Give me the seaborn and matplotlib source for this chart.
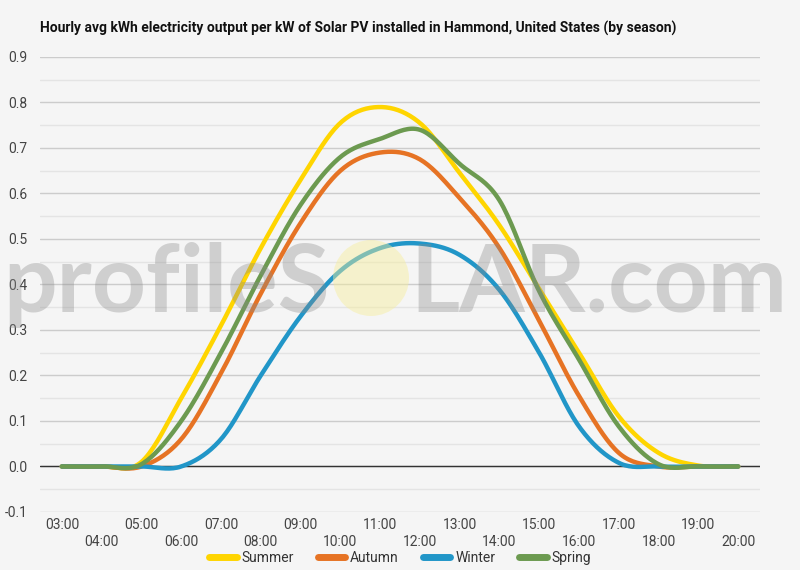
import numpy as np
import pandas as pd
import seaborn as sns
import matplotlib
matplotlib.use('Agg')
import matplotlib.pyplot as plt
from matplotlib.patches import Ellipse

# hourly values (kWh per kW installed)
hours = list(range(3, 21))
hour_labels = [f'{h:02d}:00' for h in hours]
summer = [0, 0, 0.01, 0.15, 0.31, 0.48, 0.63, 0.755, 0.79, 0.755, 0.645, 0.53, 0.39, 0.25, 0.11, 0.03, 0.002, 0]
autumn = [0, 0, 0, 0.06, 0.205, 0.38, 0.535, 0.65, 0.69, 0.675, 0.59, 0.48, 0.32, 0.155, 0.03, 0, 0, 0]
winter = [0, 0, 0, 0, 0.06, 0.20, 0.33, 0.43, 0.48, 0.49, 0.465, 0.388, 0.25, 0.088, 0.008, 0, 0, 0]
spring = [0, 0, 0.005, 0.10, 0.25, 0.42, 0.575, 0.68, 0.72, 0.74, 0.665, 0.585, 0.385, 0.235, 0.088, 0.005, 0, 0]

seasons = ['Summer', 'Autumn', 'Winter', 'Spring']
colors = ['#FFD500', '#E67324', '#2196C8', '#6C9A50']
series = dict(zip(seasons, [summer, autumn, winter, spring]))


def smooth(x, y, n=20):
    # catmull-rom style curve through the hourly points (like curveType 'function')
    x = np.asarray(x, float)
    y = np.asarray(y, float)
    m = np.gradient(y, x)
    xs, ys = [], []
    for i in range(len(x) - 1):
        t = np.linspace(0, 1, n, endpoint=False)
        h = x[i + 1] - x[i]
        h00 = 2 * t**3 - 3 * t**2 + 1
        h10 = t**3 - 2 * t**2 + t
        h01 = -2 * t**3 + 3 * t**2
        h11 = t**3 - t**2
        xs.append(x[i] + t * h)
        ys.append(h00 * y[i] + h10 * h * m[i] + h01 * y[i + 1] + h11 * h * m[i + 1])
    xs.append([x[-1]])
    ys.append([y[-1]])
    return np.concatenate(xs), np.concatenate(ys)


rows = []
for s in seasons:
    xs, ys = smooth(hours, series[s])
    rows.append(pd.DataFrame({'hour': xs, 'kwh': ys, 'season': s}))
df = pd.concat(rows, ignore_index=True)

sns.set_style('white')
plt.rcParams['font.family'] = ['Roboto', 'DejaVu Sans']

bg = '#F5F5F5'
fig = plt.figure(figsize=(8, 5.7), dpi=100, facecolor=bg)
ax = fig.add_axes([0.05, 0.1018, 0.9, 0.7982])
ax.set_facecolor(bg)

# grid
for v in np.arange(-0.1, 0.91, 0.1):
    ax.axhline(v, color='#CCCCCC', lw=1, zorder=0)
for v in np.arange(-0.05, 0.9, 0.1):
    ax.axhline(v, color='#E4E4E4', lw=1, zorder=0)
ax.axhline(0, color='#333333', lw=1, zorder=1)

sns.lineplot(data=df, x='hour', y='kwh', hue='season', palette=colors,
             hue_order=seasons, lw=3.2, ax=ax, sort=False, estimator=None,
             zorder=3)

ax.set_xlim(2.45, 20.55)
ax.set_ylim(-0.1, 0.9)
ax.set_yticks(np.arange(-0.1, 0.91, 0.1))
ax.set_yticklabels([f'{v:.1f}' for v in np.arange(-0.1, 0.91, 0.1)])
ax.set_xticks(hours)
ax.set_xticklabels([lab if i % 2 == 0 else '\n' + lab for i, lab in enumerate(hour_labels)],
                   linespacing=1.35)
ax.tick_params(axis='both', length=0, labelsize=10, labelcolor='#444444')
ax.tick_params(axis='y', pad=9)
ax.tick_params(axis='x', pad=4)
ax.set_xlabel('')
ax.set_ylabel('')
for sp in ax.spines.values():
    sp.set_visible(False)

leg = ax.legend(loc='center', bbox_to_anchor=(0.5, (570 - 558) / 570), bbox_transform=fig.transFigure,
                ncol=4, frameon=False, fontsize=10, handlelength=2.0, handletextpad=0.35,
                columnspacing=1.7, borderaxespad=0)
for line in leg.get_lines():
    line.set_linewidth(5)
for t in leg.get_texts():
    t.set_color('#333333')

fig.text(40 / 800, 1 - 28 / 570, 'Hourly avg kWh electricity output per kW of Solar PV installed in Hammond, United States (by season)',
         fontsize=10, fontweight='bold', color='#111111', va='center', ha='left')

# watermark
wm = dict(fontsize=68, fontweight='bold', family=['Lato', 'DejaVu Sans'], color='#8A8A8A',
          alpha=0.35, va='baseline', zorder=10)
fig.text(330 / 800, 1 - 312 / 570, 'profileS', ha='right', **wm)
fig.text(410 / 800, 1 - 312 / 570, 'LAR.com', ha='left', **wm)
fig.patches.append(Ellipse((371 / 800, 1 - 278 / 570), 76 / 800, 76 / 570, transform=fig.transFigure,
                           facecolor='#F6EE9A', alpha=0.45, edgecolor='none', zorder=10))

fig.savefig('out.png', dpi=100, facecolor=bg)
